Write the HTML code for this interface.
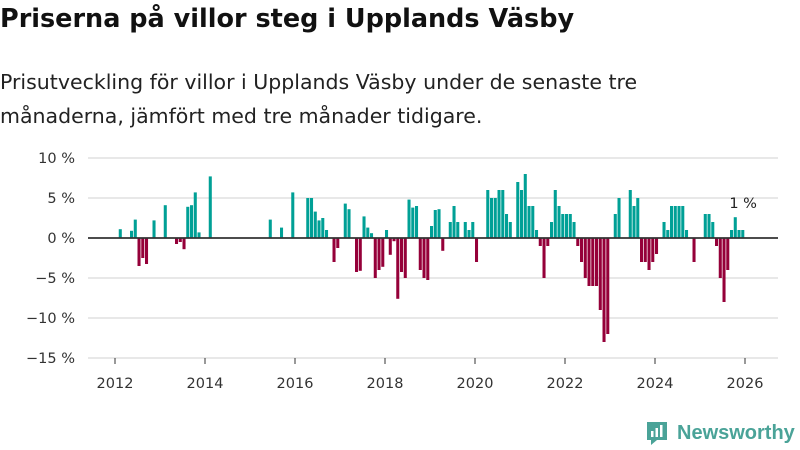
<!DOCTYPE html>
<html><head><meta charset="utf-8">
<style>
body{margin:0;background:#fff;width:800px;height:450px;overflow:hidden;font-family:"DejaVu Sans",sans-serif;}
#title{position:absolute;left:0;top:4px;font-size:25.5px;font-weight:bold;color:#111;margin:0;white-space:nowrap}
#sub{position:absolute;left:0;top:65px;font-size:20.5px;line-height:34px;color:#222;margin:0;white-space:nowrap}
svg{position:absolute;left:0;top:0}
</style></head><body>
<h1 id="title">Priserna på villor steg i Upplands Väsby</h1>
<p id="sub">Prisutveckling för villor i Upplands Väsby under de senaste tre<br>månaderna, jämfört med tre månader tidigare.</p>
<svg id="chart" width="800" height="450"></svg>
<script>
const monthIdx = [1,4,5,6,7,8,10,13,16,17,18,19,20,21,22,25,41,44,47,51,52,53,54,55,56,58,59,61,62,64,65,66,67,68,69,70,71,72,73,74,75,76,77,78,79,80,81,82,83,84,85,86,87,89,90,91,93,94,95,96,99,100,101,102,103,104,105,107,108,109,110,111,112,113,114,115,116,117,118,119,120,121,122,123,124,125,126,127,128,129,130,131,133,134,137,138,139,140,141,142,143,144,146,147,148,149,150,151,152,154,157,158,159,160,161,162,163,164,165,166,167];
const values = [1.1,0.9,2.3,-3.5,-2.5,-3.25,2.2,4.1,-0.75,-0.5,-1.4,3.9,4.1,5.7,0.7,7.7,2.3,1.3,5.7,5,5,3.3,2.2,2.5,1,-3,-1.25,4.3,3.6,-4.25,-4.1,2.7,1.3,0.6,-5,-4,-3.6,1,-2.1,-0.4,-7.6,-4.25,-5,4.8,3.8,4,-4,-5,-5.25,1.5,3.5,3.6,-1.6,2,4,2,2,1,2,-3,6,5,5,6,6,3,2,7,6,8,4,4,1,-1,-5,-1,2,6,4,3,3,3,2,-1,-3,-5,-6,-6,-6,-9,-13,-12,3,5,6,4,5,-3,-3,-4,-3,-2,2,1,4,4,4,4,1,-3,3,3,2,-1,-5,-8,-4,1,2.6,1,1];
const yTicks = [10,5,0,-5,-10,-15];
const xTicks = [2012,2014,2016,2018,2020,2022,2024,2026];
const lastLabel = "1 %";

const NS="http://www.w3.org/2000/svg";
const svg=document.getElementById('chart');
const X0=115, PX_YEAR=45, mW=PX_YEAR/12;
const yS=v=>238-v*8;
const xM=i=>X0+i*mW;
const xY=y=>X0+(y-2012)*PX_YEAR;
const FF='DejaVu Sans, sans-serif';
function mk(t,a){const e=document.createElementNS(NS,t);for(const k in a)e.setAttribute(k,a[k]);svg.appendChild(e);return e;}
yTicks.forEach(v=>{
  if(v!==0){const g=mk('line',{x1:88,x2:778,y1:yS(v),y2:yS(v),stroke:'#e0e0e0','stroke-width':1.5});
  
  }
  const t=mk('text',{x:75,y:yS(v)+5,'text-anchor':'end','font-size':14.5,fill:'#333','font-family':FF});
  t.textContent=(v<0?'−'+(-v):v)+' %';
  
  
});
xTicks.forEach(y=>{
  const l=mk('line',{x1:xY(y),x2:xY(y),y1:358,y2:364,stroke:'#333','stroke-width':1});
  
  
  const t=mk('text',{x:xY(y),y:388,'text-anchor':'middle','font-size':14.5,fill:'#333','font-family':FF});
  t.textContent=y;
  
  
});
values.forEach((v,k)=>{
  const x=xM(monthIdx[k]);
  const y=v>=0?yS(v):yS(0);
  const r=mk('rect',{x:x,y:y,width:mW-0.7,height:Math.abs(yS(v)-yS(0)),fill:v>=0?'#00a096':'#950039'});
  
  
});
const z=mk('line',{x1:88,x2:778,y1:yS(0),y2:yS(0),stroke:'#333','stroke-width':1.8});


const li=values.length-1;
const lt=mk('text',{x:xM(monthIdx[li])+mW/2,y:yS(Math.max(values[li],0))-22,'text-anchor':'middle','font-size':14.5,fill:'#222','font-family':FF});
lt.textContent=lastLabel;


</script>
<div style="position:absolute;left:645px;top:420px;display:flex;align-items:center;font-family:'Liberation Sans',sans-serif">
  <svg width="24" height="26" style="position:static"><path d="M2 2h20v18h-10l-6 5v-5h-4z" fill="#4aa398"/><rect x="6" y="11" width="2.5" height="6" fill="#fff"/><rect x="10.5" y="8" width="2.5" height="9" fill="#fff"/><rect x="15" y="5" width="2.5" height="12" fill="#fff"/></svg>
  <span style="margin-left:8px;font-size:20px;font-weight:bold;color:#4aa398">Newsworthy</span>
</div>
</body></html>
